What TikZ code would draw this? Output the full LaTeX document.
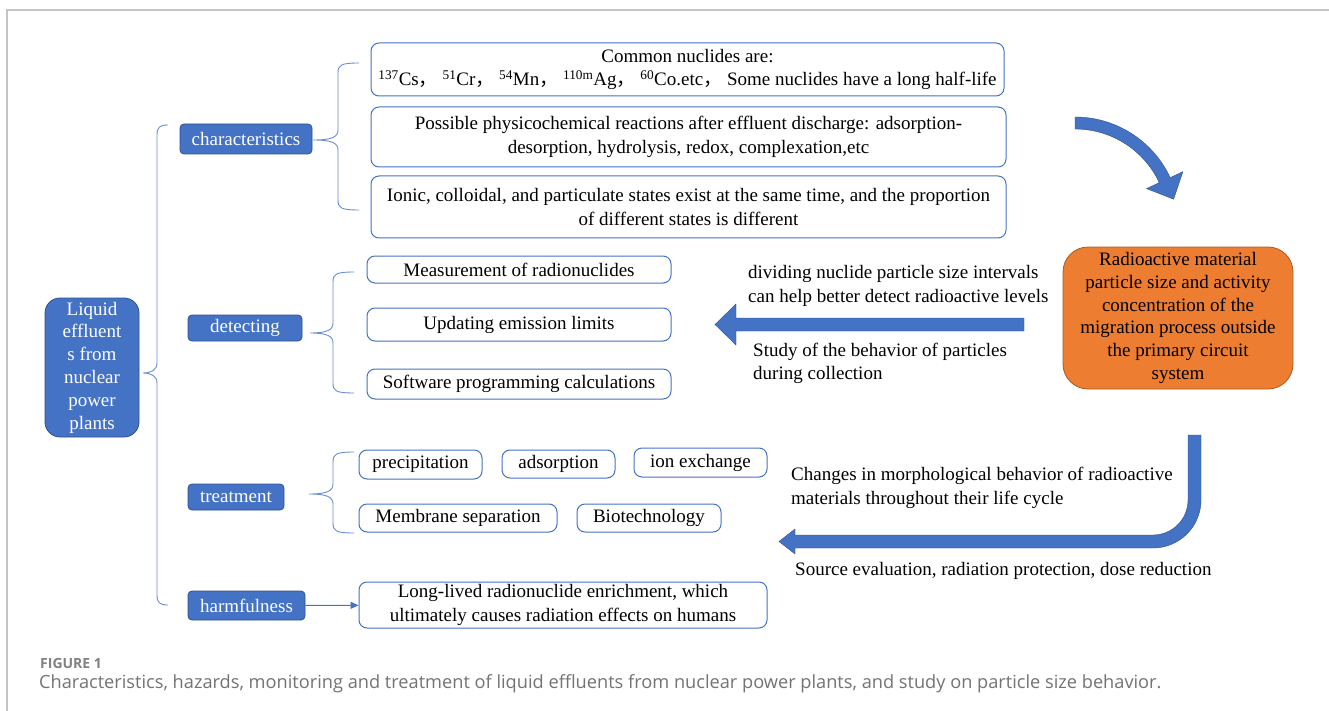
\documentclass[tikz,border=0pt]{standalone}
\usepackage{fontspec}
\setmainfont{Liberation Serif}
\newfontfamily\capfont{Open Sans}
\newfontfamily\cjkfont{Noto Sans CJK SC}
\usepackage{xcolor}
\usepackage{tikz}
\usetikzlibrary{arrows.meta,positioning,calc}

\definecolor{mapblue}{HTML}{4472C4}
\definecolor{mapdark}{HTML}{2F528F}
\definecolor{maporange}{HTML}{ED7D31}
\definecolor{orangeedge}{HTML}{AE5A21}
\definecolor{bracecol}{HTML}{6A8DD4}
\definecolor{framegray}{HTML}{C4C4C4}
\definecolor{capgray}{HTML}{737373}

\newcommand{\bodysize}{\fontsize{19}{23.5}\selectfont}
\newcommand{\cm}{{\cjkfont ，}}
% cusp x, cusp y, bar x, end x, top y, bottom y
\newcommand{\mapbrace}[6]{%
  \draw[brace] (#4,#5) .. controls (#3+3,#5) and (#3,#5+2) .. (#3,#5+10)
    -- (#3,#2-10) .. controls (#3,#2-3) and (#3-6,#2) .. (#1,#2)
    .. controls (#3-6,#2) and (#3,#2+3) .. (#3,#2+10)
    -- (#3,#6-10) .. controls (#3,#6-2) and (#3+3,#6) .. (#4,#6);}

\begin{document}
\begin{tikzpicture}[
  x=1pt, y=-1pt,
  every node/.style={font=\bodysize, inner sep=0pt},
  rootbox/.style={rectangle, draw=mapdark, line width=0.8pt, fill=mapblue, text=white, rounded corners=15pt, align=center, font=\fontsize{19}{22.8}\selectfont},
  catbox/.style={rectangle, draw=mapdark, line width=0.8pt, fill=mapblue, text=white, rounded corners=4pt},
  leaf/.style={rectangle, draw=mapblue, line width=1pt, fill=white, rounded corners=8pt, align=center},
  note/.style={anchor=west, align=left},
  brace/.style={draw=bracecol, line width=0.9pt},
  link/.style={-{Triangle[length=8pt,width=7pt]}, draw=mapblue, line width=0.9pt},
  blockarrow/.style={fill=mapblue, draw=mapdark, line width=0.4pt},
]

\fill[white] (0,0) rectangle (1329,711);
\useasboundingbox (0,0) rectangle (1329,711);
\draw[framegray, line width=1.3pt] (7,711) -- (7,10) -- (1329,10);

% root and categories
\node[rootbox, minimum width=94, minimum height=139] (root) at (92,367.5) {Liquid\\effluent\\s from\\nuclear\\power\\plants};
\node[catbox, minimum width=132, minimum height=30] (chars) at (246,139) {characteristics};
\node[catbox, minimum width=114, minimum height=26] (detect) at (245,328) {detecting};
\node[catbox, minimum width=96, minimum height=26] (treat) at (236,497) {treatment};
\node[catbox, minimum width=117, minimum height=29] (harm) at (246.5,605.5) {harmfulness};

\mapbrace{143}{373}{157}{168}{125}{605}
\mapbrace{313}{140}{338}{359}{63}{210}
\mapbrace{310}{333}{333}{354}{272}{393}
\mapbrace{309}{494}{333}{354}{452}{533}

% characteristics
\node[leaf, minimum width=633, minimum height=53] (nuclides) at (687.5,69.5) {Common nuclides are:\\
  \textsuperscript{137}Cs\cm\ \textsuperscript{51}Cr\cm\ \textsuperscript{54}Mn\cm\ \textsuperscript{110m}Ag\cm\ \textsuperscript{60}Co.etc\cm\ Some nuclides have a long half-life};
\node[leaf, minimum width=635, minimum height=60] (reactions) at (688.5,137) {Possible physicochemical reactions after effluent discharge: adsorption-\\desorption, hydrolysis, redox, complexation,etc};
\node[leaf, minimum width=635, minimum height=62] (states) at (688.5,207) {Ionic, colloidal, and particulate states exist at the same time, and the proportion\\of different states is different};

% detecting
\node[leaf, minimum width=304, minimum height=27] (measure) at (519,269.5) {Measurement of radionuclides};
\node[leaf, minimum width=304, minimum height=33] (limits) at (519,324.5) {Updating emission limits};
\node[leaf, minimum width=304, minimum height=30] (software) at (519,384) {Software programming calculations};

% treatment
\node[leaf, minimum width=123, minimum height=29] (precip) at (420.5,464.5) {precipitation};
\node[leaf, minimum width=113, minimum height=28] (adsorb) at (558.5,464) {adsorption};
\node[leaf, minimum width=133, minimum height=29] (ionex) at (700.5,462.5) {ion exchange};
\node[leaf, minimum width=198, minimum height=28] (membrane) at (458,518) {Membrane separation};
\node[leaf, minimum width=144, minimum height=28] (biotech) at (649,518) {Biotechnology};

% harmfulness
\node[leaf, minimum width=408, minimum height=46] (harmbox) at (563,605) {Long-lived radionuclide enrichment, which\\ultimately causes radiation effects on humans};
\draw[link] (harm) -- (harmbox);

% particle size study
\node[rectangle, draw=orangeedge, line width=0.8pt, fill=maporange, rounded corners=25pt, align=center, minimum width=230, minimum height=142, font=\fontsize{19}{22.8}\selectfont] (particle) at (1178,318) {Radioactive material\\particle size and activity\\concentration of the\\migration process outside\\the primary circuit\\system};

\coordinate (bend) at (1075,222);
\fill[blockarrow] ($(bend)+(-90:105)$) arc[start angle=-90, end angle=-25, radius=105]
  -- ($(bend)+(-25:119)$) -- ($(bend)+(-25:99)+(65:21)$) -- ($(bend)+(-25:79)$)
  -- ($(bend)+(-25:93)$) arc[start angle=-25, end angle=-90, radius=93] -- cycle;

\fill[blockarrow] (1024,318) -- (1024,331) -- (736,331) -- (736,345) -- (715,324.5) -- (736,304) -- (736,318) -- cycle;

\fill[blockarrow] (1188,435) -- (1201,435) -- (1201,500) arc[start angle=0, end angle=90, radius=48]
  -- (795,548) -- (795,554) -- (779,541.5) -- (795,529) -- (795,535) -- (1153,535)
  arc[start angle=90, end angle=0, radius=35] -- cycle;

\node[note] (divide) at (748,286) {dividing nuclide particle size intervals\\can help better detect radioactive levels};
\node[note] (behave) at (753,363.5) {Study of the behavior of particles\\during collection};
\node[note] (morph) at (791,488) {Changes in morphological behavior of radioactive\\materials throughout their life cycle};
\node[note] (source) at (795,571) {Source evaluation, radiation protection, dose reduction};

% caption
\node[anchor=west, text=capgray!90, font=\capfont\bfseries\fontsize{14}{16}\selectfont] (fig) at (40,663) {FIGURE 1};
\node[anchor=west, text=capgray, font=\capfont\fontsize{18.2}{21}\selectfont] (caption) at (39,684) {Characteristics, hazards, monitoring and treatment of liquid effluents from nuclear power plants, and study on particle size behavior.};

\end{tikzpicture}
\end{document}
